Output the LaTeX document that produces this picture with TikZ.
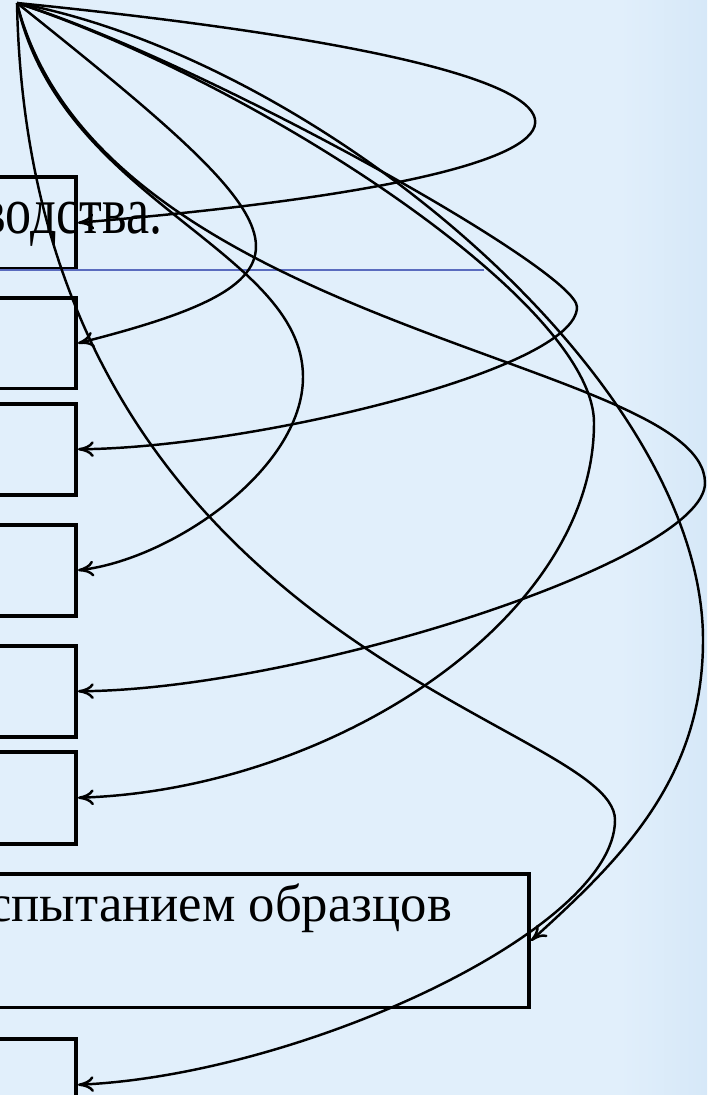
\documentclass[tikz,border=0pt]{standalone}
\usepackage{fontspec}
\setmainfont{Liberation Serif}
\usetikzlibrary{arrows.meta}
\definecolor{slidebg}{HTML}{E1EFFB}
\definecolor{slideedge}{HTML}{D6E8F8}
\definecolor{rulecol}{HTML}{5A6BBE}
\begin{document}
\begin{tikzpicture}[
    x=0.02cm, y=-0.02cm,
    box/.style={rectangle, draw, line width=2pt, inner sep=0pt, anchor=north east},
    label/.style={anchor=base west, inner sep=0pt},
    link/.style={line width=1.4pt, -{To[length=9pt,width=9pt]}}
]
% slide background
\fill[slidebg] (0,0) rectangle (707,1095);
\shade[left color=slidebg, right color=slideedge] (620,0) rectangle (707,1095);
\useasboundingbox (0,0) rectangle (707,1095);

% hub where all arrows start
\coordinate (hub) at (17,3);

% boxes
\node[box, minimum width=3cm, minimum height=1.84cm] (b1) at (78,175) {};
\node[box, minimum width=3cm, minimum height=1.82cm] (b2) at (78,296) {};
\node[box, minimum width=3cm, minimum height=1.82cm] (b3) at (78,402) {};
\node[box, minimum width=3cm, minimum height=1.82cm] (b4) at (78,523) {};
\node[box, minimum width=3cm, minimum height=1.82cm] (b5) at (78,644) {};
\node[box, minimum width=3cm, minimum height=1.84cm] (b6) at (78,750) {};
\node[box, minimum width=12cm, minimum height=2.68cm] (b7) at (531,872) {};
\node[box, minimum width=3cm, minimum height=1.84cm] (b8) at (78,1037) {};

% texts
\node[label, font=\fontsize{38}{40}\selectfont] (t1) at (-19,233) {\scalebox{0.78}[1]{водства.}};
\node[label, font=\fontsize{30}{34}\selectfont] (t7) at (-12,921) {спытанием образцов};

% separator line
\draw[rulecol, line width=1.6pt] (0,270) -- (484,270);

% arrows
\draw[link] (hub) .. controls (697,71) and (697,171) .. (b1.east);
\draw[link] (hub) .. controls (301,230) and (344,276) .. (b2.east);
\draw[link] (hub) .. controls (200,60) and (577,270) .. (577,307) .. controls (577,370) and (250,448) .. (b3.east);
\draw[link] (hub) .. controls (60,200) and (303,250) .. (303,377) .. controls (303,470) and (170,560) .. (b4.east);
\draw[link] (hub) .. controls (100,330) and (705,360) .. (705,483) .. controls (705,560) and (300,690) .. (b5.east);
\draw[link] (hub) .. controls (250,80) and (594,300) .. (594,423) .. controls (594,620) and (330,790) .. (b6.east);
\draw[link] (hub) .. controls (320,60) and (703,380) .. (703,640) .. controls (703,780) and (620,860) .. (b7.east);
\draw[link] (hub) .. controls (30,650) and (615,720) .. (615,820) .. controls (615,930) and (300,1075) .. (b8.east);
\end{tikzpicture}
\end{document}
